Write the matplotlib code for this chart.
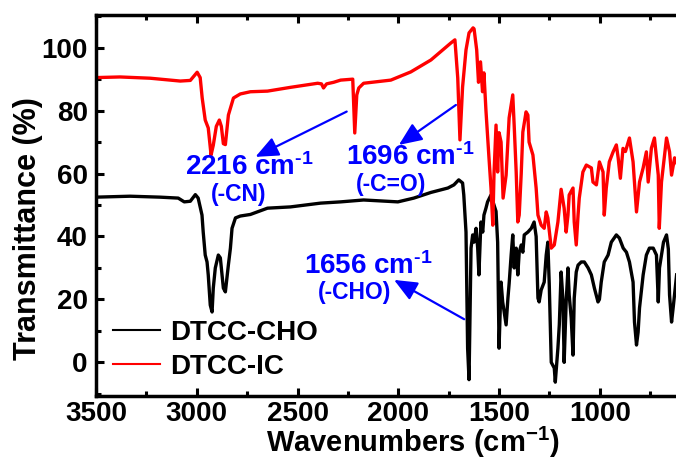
import matplotlib
matplotlib.use('Agg')
import matplotlib.pyplot as plt
from matplotlib.ticker import MultipleLocator

# FTIR spectra: (wavenumber cm-1, transmittance %)
dtcc_cho = [
    (3500, 52.5), (3331, 52.8), (3182, 52.5), (3092, 52.2), (3062, 51.0), (3032, 51.2),
    (3007, 53.3), (2993, 52.2), (2974, 46.8), (2968, 41.4), (2958, 34.1), (2949, 31.9),
    (2943, 27.8), (2933, 18.2), (2924, 16.0), (2918, 23.6), (2908, 30.0), (2893, 34.1),
    (2883, 33.2), (2868, 23.6), (2858, 22.4), (2843, 31.0), (2833, 36.3), (2825, 42.6),
    (2808, 45.9), (2784, 46.5), (2734, 47.0), (2649, 49.0), (2535, 49.4), (2386, 50.6),
    (2286, 51.0), (2172, 51.6), (2002, 51.0), (1923, 52.2), (1838, 54.0), (1754, 55.4),
    (1724, 56.4), (1700, 58.0), (1681, 57.0), (1675, 53.2), (1664, 41.4), (1656, 4.5),
    (1649, -5.5), (1639, 36.3), (1631, 40.5), (1624, 38.2), (1614, 42.6), (1606, 36.3),
    (1600, 27.8), (1590, 44.6), (1581, 41.4), (1575, 46.8), (1565, 49.0), (1557, 51.0),
    (1540, 53.2), (1525, 50.0), (1515, 48.0), (1507, 38.2), (1500, 4.5), (1490, 25.5),
    (1482, 19.2), (1465, 11.9), (1456, 20.4), (1450, 25.0), (1440, 34.1), (1432, 40.5),
    (1425, 30.0), (1415, 36.3), (1407, 27.8), (1400, 35.0), (1390, 37.3), (1382, 35.0),
    (1375, 40.5), (1357, 41.4), (1340, 42.6), (1326, 44.6), (1316, 40.0), (1307, 20.4),
    (1301, 19.2), (1291, 23.0), (1276, 25.5), (1266, 34.1), (1258, 38.2), (1251, 25.0),
    (1241, 0.0), (1226, -1.8), (1221, -6.3), (1208, 4.5), (1201, 12.0), (1192, 28.7),
    (1183, 20.0), (1177, 0.0), (1167, 19.2), (1158, 30.0), (1152, 21.4), (1142, 14.1),
    (1133, 2.3), (1127, 20.4), (1117, 28.7), (1108, 30.9), (1092, 31.9), (1077, 31.9),
    (1058, 30.0), (1042, 27.8), (1027, 23.6), (1009, 19.2), (1002, 20.0), (993, 25.5),
    (978, 31.9), (959, 34.1), (943, 38.2), (918, 40.5), (903, 39.5), (884, 36.3),
    (868, 35.0), (853, 31.9), (835, 25.5), (828, 12.8), (818, 5.5), (810, 9.6),
    (803, 17.3), (785, 27.8), (769, 34.1), (754, 36.3), (735, 36.3), (719, 34.1),
    (710, 19.2), (704, 30.0), (684, 38.2), (669, 40.5), (660, 36.0), (654, 21.4),
    (644, 12.8), (635, 18.0), (619, 27.8),
]

dtcc_ic = [
    (3500, 90.5), (3381, 90.7), (3231, 90.3), (3082, 89.4), (3032, 89.6), (2998, 92.2),
    (2983, 90.5), (2973, 84.0), (2958, 77.0), (2943, 74.5), (2929, 65.9), (2918, 69.0),
    (2903, 75.0), (2888, 77.0), (2878, 75.0), (2868, 69.5), (2858, 69.2), (2843, 78.6),
    (2818, 84.0), (2784, 85.3), (2734, 86.0), (2649, 86.2), (2535, 87.4), (2400, 88.7),
    (2381, 88.5), (2371, 87.2), (2356, 88.5), (2321, 89.0), (2286, 89.7), (2226, 90.0),
    (2216, 72.9), (2206, 85.0), (2196, 87.2), (2172, 88.7), (2037, 89.7), (1938, 92.3),
    (1838, 96.1), (1739, 101.5), (1719, 102.5), (1705, 90.4), (1694, 70.7), (1681, 87.5),
    (1664, 99.3), (1649, 104.7), (1629, 106.3), (1624, 106.0), (1611, 99.3), (1602, 89.0),
    (1592, 95.5), (1582, 86.0), (1575, 92.0), (1565, 80.0), (1550, 65.0), (1540, 55.4),
    (1531, 43.6), (1525, 60.0), (1515, 75.4), (1507, 60.5), (1500, 73.0), (1490, 70.0),
    (1480, 52.2), (1465, 59.5), (1450, 77.7), (1432, 85.0), (1425, 75.4), (1415, 60.5),
    (1407, 44.6), (1400, 46.8), (1390, 60.0), (1382, 73.2), (1366, 79.6), (1357, 78.6),
    (1351, 70.0), (1332, 65.9), (1316, 55.4), (1307, 46.8), (1291, 43.6), (1276, 42.6),
    (1266, 47.8), (1258, 45.9), (1241, 36.3), (1226, 37.3), (1208, 44.6), (1192, 55.0),
    (1177, 49.0), (1167, 41.4), (1158, 46.8), (1152, 53.2), (1133, 55.4), (1127, 44.6),
    (1117, 37.3), (1108, 46.8), (1102, 52.2), (1084, 60.5), (1067, 62.7), (1042, 61.8),
    (1034, 57.3), (1017, 56.4), (1002, 63.7), (984, 60.5), (978, 46.8), (968, 55.4),
    (953, 63.7), (934, 66.9), (918, 69.1), (909, 65.0), (898, 58.5), (885, 68.0),
    (873, 67.0), (853, 71.3), (835, 63.7), (818, 47.8), (803, 57.3), (785, 61.8),
    (769, 66.9), (760, 57.3), (744, 68.1), (729, 71.3), (710, 59.5), (705, 42.6),
    (694, 57.3), (669, 71.3), (654, 66.9), (644, 59.5), (629, 65.0), (614, 62.7),
]

# peak labels: text, text position, sub-label, sub-label position, arrow head, arrow tail
peak_labels = [r'2216 cm$^{\text{-}1}$', r'1696 cm$^{\text{-}1}$', r'1656 cm$^{\text{-}1}$']
peak_label_pos = [(2739, 59.4), (1940, 62.6), (2147, 28.0)]
group_labels = ['(-CN)', '(-C=O)', '(-CHO)']
group_label_pos = [(2793, 51.2), (2037, 54.6), (2219, 20.2)]
arrow_heads = [(2709, 65.3), (1997, 69.1), (2021, 26.2)]
arrow_tails = [(2256, 79.7), (1714, 81.8), (1673, 13.7)]

plt.rcParams['font.family'] = ['Liberation Sans', 'DejaVu Sans']
plt.rcParams['font.weight'] = 'bold'
plt.rcParams['axes.labelweight'] = 'bold'
plt.rcParams['mathtext.fontset'] = 'custom'
plt.rcParams['mathtext.rm'] = 'Liberation Sans:bold'
plt.rcParams['mathtext.bf'] = 'Liberation Sans:bold'
plt.rcParams['mathtext.default'] = 'bf'

fig = plt.figure(figsize=(6.76, 4.68), dpi=100)
ax = fig.add_axes([0.142, 0.1545, 0.858, 0.8135])

x, y = zip(*dtcc_cho)
ax.plot(x, y, color='black', lw=2.4, label='DTCC-CHO')
x, y = zip(*dtcc_ic)
ax.plot(x, y, color='red', lw=2.4, label='DTCC-IC')

for txt, tpos, grp, gpos, head, tail in zip(peak_labels, peak_label_pos, group_labels,
                                            group_label_pos, arrow_heads, arrow_tails):
    ax.text(*tpos, txt, color='blue', fontsize=20, ha='center', va='baseline')
    ax.text(*gpos, grp, color='blue', fontsize=16.5, ha='center', va='baseline')
    ax.annotate('', xy=head, xytext=tail,
                arrowprops=dict(arrowstyle='-|>,head_length=0.7,head_width=0.3',
                                color='blue', lw=1.6, mutation_scale=20,
                                shrinkA=0, shrinkB=0))

ax.set_xlim(3500, 622)
ax.set_ylim(-10.6, 110.4)
ax.xaxis.set_major_locator(MultipleLocator(500))
ax.xaxis.set_minor_locator(MultipleLocator(250))
ax.yaxis.set_major_locator(MultipleLocator(20))
ax.yaxis.set_minor_locator(MultipleLocator(10))
ax.tick_params(which='both', direction='in', top=True, right=False, width=2.2)
ax.tick_params(which='major', length=6, labelsize=20)
ax.tick_params(which='minor', length=3.5)
ax.tick_params(axis='x', pad=4)
ax.tick_params(axis='y', pad=6)
for side in ['left', 'top', 'bottom']:
    ax.spines[side].set_linewidth(2.5)
ax.spines['right'].set_visible(False)

ax.set_xlabel('Wavenumbers (cm$^{-1}$)', fontsize=21)
ax.set_ylabel('Transmittance (%)', fontsize=22)
ax.xaxis.set_label_coords(0.547, -0.077)
ax.yaxis.set_label_coords(-0.091, 0.44)

leg = ax.legend(loc='center left', bbox_to_anchor=(0.029, 0.12), frameon=False,
                fontsize=20, handlelength=1.7, handletextpad=0.35, labelspacing=0.3,
                borderpad=0, borderaxespad=0)
for line in leg.get_lines():
    line.set_linewidth(1.5)

fig.savefig('out.png', dpi=100)
